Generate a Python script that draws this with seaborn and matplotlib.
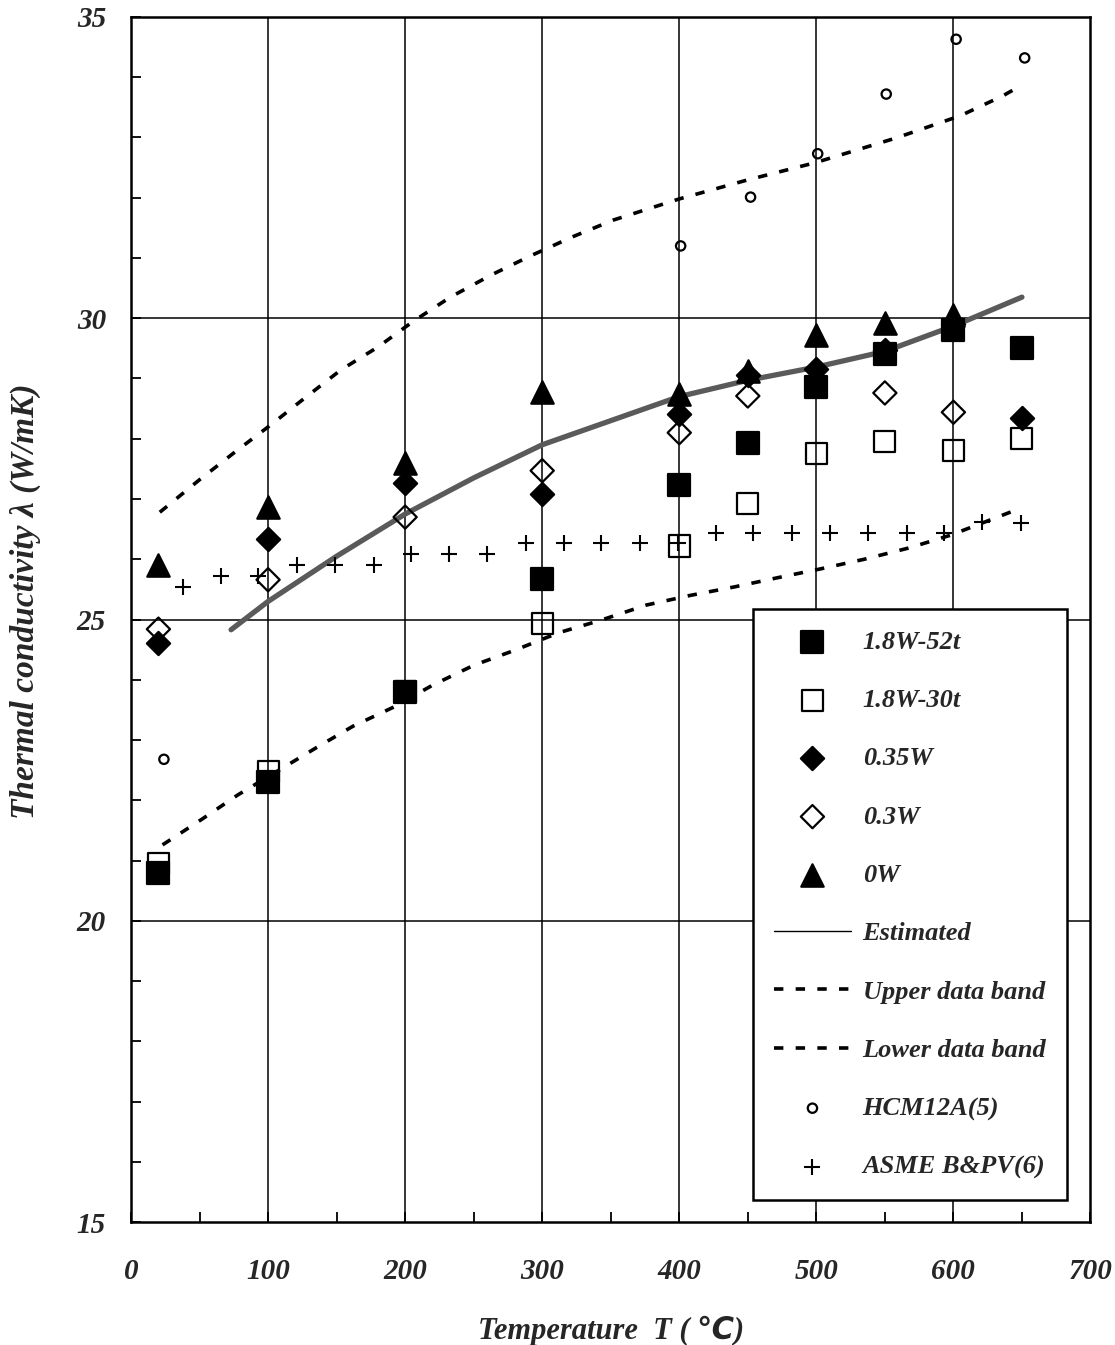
#!/usr/bin/env python3
""" Thermal conductivity vs temperature, test data vs estimated curve and data bands """

import matplotlib
matplotlib.use('Agg')
import matplotlib.pyplot as plt
from matplotlib.lines import Line2D
from matplotlib.ticker import MultipleLocator
import seaborn as sns

# Test data (temperature in C, conductivity in W/mK)
temp_test = [20, 100, 200, 300, 400, 450, 500, 550, 600, 650]
w18_52t = [20.8, 22.3, 23.8, 25.67, 27.23, 27.93, 28.86, 29.4, 29.8, 29.5]
w18_30t = [20.95, 22.47, 23.8, 24.93, 26.22, 26.93, 27.76, 27.96, 27.81, 28.0]
w035 = [24.61, 26.34, 27.27, 27.08, 28.41, 29.06, 29.16, 29.47, 29.9, 28.34]

temp_03w = [20, 100, 200, 300, 400, 450, 550, 600]
w03 = [24.84, 25.66, 26.7, 27.47, 28.1, 28.71, 28.76, 28.44]

temp_0w = [20, 100, 200, 300, 400, 450, 500, 550, 600]
w0 = [25.9, 26.87, 27.6, 28.78, 28.74, 29.13, 29.72, 29.92, 30.05]

# Estimated curve
temp_est = [73, 100, 150, 200, 250, 300, 350, 400, 450, 500, 550, 600, 650]
lam_est = [24.83, 25.3, 26.05, 26.75, 27.35, 27.9, 28.3, 28.7, 28.97, 29.19, 29.45, 29.87, 30.35]

# Upper / lower data band
temp_upper = [21, 50, 77, 102, 127, 153, 180, 206, 233, 263, 291, 322, 352, 400, 449, 499,
              558, 605, 636, 650]
lam_upper = [26.78, 27.32, 27.8, 28.23, 28.68, 29.14, 29.52, 29.95, 30.35, 30.72, 31.03,
             31.35, 31.63, 31.98, 32.29, 32.58, 32.99, 33.36, 33.69, 33.87]
temp_lower = [23, 52, 78, 108, 135, 162, 192, 220, 250, 280, 312, 343, 376, 408, 440, 471,
              503, 535, 568, 598, 630, 647]
lam_lower = [21.26, 21.69, 22.09, 22.5, 22.87, 23.23, 23.55, 23.91, 24.24, 24.49, 24.78,
             24.99, 25.24, 25.4, 25.54, 25.69, 25.84, 26.0, 26.19, 26.4, 26.68, 26.83]

# Literature data
temp_hcm = [24, 401, 452, 501, 551, 602, 652]
lam_hcm = [22.68, 31.2, 32.01, 32.73, 33.72, 34.63, 34.32]
temp_asme = [38, 66, 93, 121, 149, 177, 204, 232, 260, 288, 316, 343, 371, 399, 427, 454,
             482, 510, 538, 566, 593, 621, 649]
lam_asme = [25.54, 25.72, 25.72, 25.9, 25.9, 25.9, 26.09, 26.09, 26.09, 26.27, 26.27, 26.27,
            26.27, 26.27, 26.44, 26.44, 26.44, 26.44, 26.44, 26.44, 26.44, 26.62, 26.6]


def main():
  sns.set_style('ticks')
  plt.rcParams['font.family'] = ['Liberation Serif', 'DejaVu Sans']
  plt.rcParams['font.weight'] = 'bold'
  plt.rcParams['font.style'] = 'italic'

  fig = plt.figure(figsize=(11.15, 13.45), dpi=100)
  ax = fig.add_axes([0.1175, 0.0914, 0.8605, 0.896])

  # Grid lines drawn by hand so only the majors inside show up
  for xv in range(100, 700, 100):
    ax.axvline(xv, color='black', lw=1.1, zorder=1)
  for yv in (20, 25, 30):
    ax.axhline(yv, color='black', lw=1.1, zorder=1)

  sns.lineplot(x=temp_est, y=lam_est, ax=ax, color='#5a5a5a', lw=3.8, label='Estimated',
               zorder=3, sort=False)
  sns.lineplot(x=temp_upper, y=lam_upper, ax=ax, color='black', lw=2.6,
               dashes=False, label='Upper data band', zorder=3, sort=False)
  sns.lineplot(x=temp_lower, y=lam_lower, ax=ax, color='black', lw=2.6,
               dashes=False, label='Lower data band', zorder=3, sort=False)
  for ln in ax.lines[-2:]:
    ln.set_dashes((2.6, 3.4))

  mk = dict(ax=ax, zorder=4, linewidth=1.6)
  sns.scatterplot(x=temp_asme, y=lam_asme, marker='+', s=130, color='black',
                  label='ASME B&PV(6)', ax=ax, zorder=4, linewidth=1.5)
  sns.scatterplot(x=temp_hcm, y=lam_hcm, marker='o', s=45, facecolor='none',
                  edgecolor='black', label='HCM12A(5)', **mk)
  sns.scatterplot(x=temp_test, y=w18_52t, marker='s', s=230, color='black',
                  edgecolor='black', label='1.8W-52t', **mk)
  sns.scatterplot(x=temp_test, y=w18_30t, marker='s', s=230, facecolor='none',
                  edgecolor='black', label='1.8W-30t', **mk)
  sns.scatterplot(x=temp_test, y=w035, marker='D', s=140, color='black',
                  edgecolor='black', label='0.35W', **mk)
  sns.scatterplot(x=temp_03w, y=w03, marker='D', s=140, facecolor='none',
                  edgecolor='black', label='0.3W', **mk)
  sns.scatterplot(x=temp_0w, y=w0, marker='^', s=260, color='black',
                  edgecolor='black', label='0W', **mk)

  ax.set_xlim(0, 700)
  ax.set_ylim(15, 35)
  ax.xaxis.set_major_locator(MultipleLocator(100))
  ax.xaxis.set_minor_locator(MultipleLocator(50))
  ax.yaxis.set_major_locator(MultipleLocator(5))
  ax.yaxis.set_minor_locator(MultipleLocator(1))
  ax.tick_params(which='both', direction='in', length=7, width=1.3, labelsize=21, color='black')
  ax.tick_params(axis='x', which='both', pad=26)
  ax.tick_params(axis='y', which='both', pad=18)
  for lab in ax.get_xticklabels() + ax.get_yticklabels():
    lab.set_fontweight('bold')
    lab.set_fontstyle('italic')
  for sp in ax.spines.values():
    sp.set_visible(True)
    sp.set_linewidth(1.8)
    sp.set_color('black')

  ax.set_xlabel('Temperature  T ( ℃)', fontsize=22, fontweight='bold', fontstyle='italic',
                labelpad=22)
  ax.set_ylabel('Thermal conductivity λ (W/mK)', fontsize=24, fontweight='bold',
                fontstyle='italic')
  ax.yaxis.set_label_coords(-0.094, 0.515)

  # Legend in the reference order, with a thin line for the estimate
  handles, labels = ax.get_legend_handles_labels()
  lookup = dict(zip(labels, handles))
  lookup['Estimated'] = Line2D([], [], color='black', lw=1.0)
  order = ['1.8W-52t', '1.8W-30t', '0.35W', '0.3W', '0W', 'Estimated', 'Upper data band',
           'Lower data band', 'HCM12A(5)', 'ASME B&PV(6)']
  leg = ax.legend([lookup[k] for k in order], order, loc='lower right',
                  bbox_to_anchor=(0.976, 0.018), fontsize=19, frameon=True, fancybox=False,
                  edgecolor='black', framealpha=1, labelspacing=1.32, handlelength=2.9,
                  handletextpad=0.45, borderpad=0.8, borderaxespad=0)
  leg.get_frame().set_linewidth(1.8)
  for txt in leg.get_texts():
    txt.set_fontweight('bold')
    txt.set_fontstyle('italic')

  fig.savefig('out.png', dpi=100)


if __name__ == '__main__':
  main()
